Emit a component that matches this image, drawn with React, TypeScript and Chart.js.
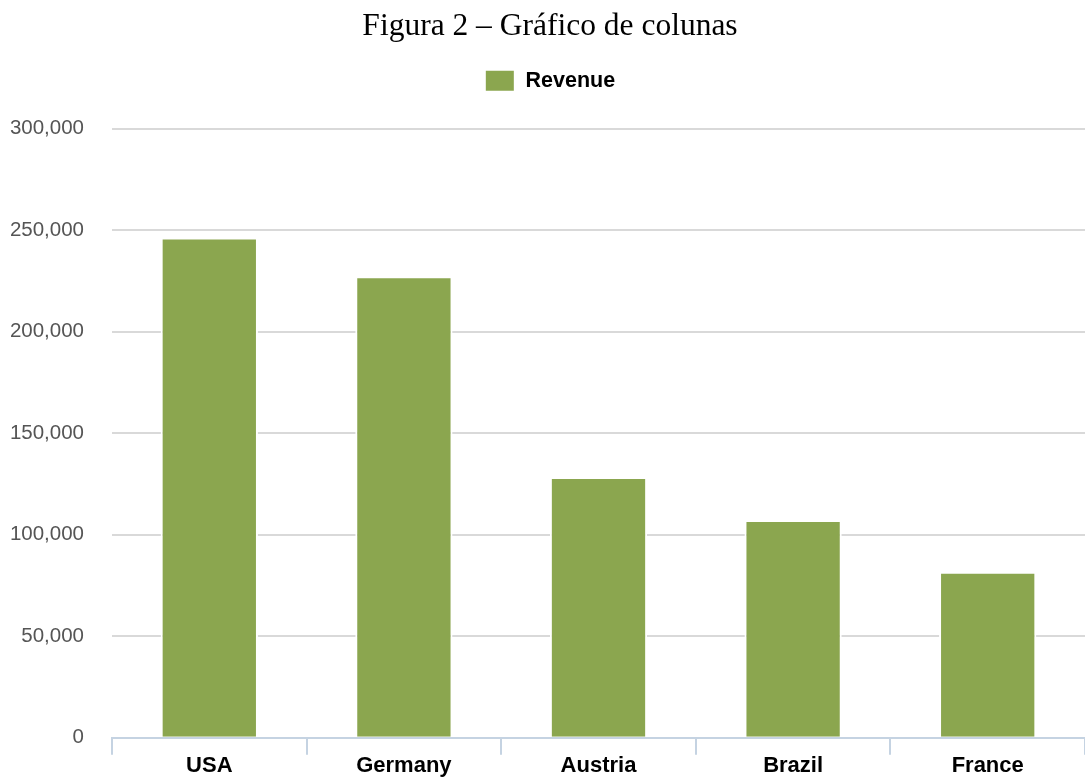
import React, { useEffect, useRef } from "react";
import { Chart, registerables } from "chart.js";

Chart.register(...registerables);

const categories = ["USA", "Germany", "Austria", "Brazil", "France"];
const revenue = [246500, 227300, 128400, 107300, 81800];
const seriesLabel = "Revenue";
const titleText = "Figura 2 – Gráfico de colunas";
const yMin = 0;
const yMax = 300000;
const yStep = 50000;

const legendGap = {
  id: "legendGap",
  beforeInit(chart: any) {
    const legend = chart.legend;
    if (!legend) return;
    const origFit = legend.fit;
    legend.fit = function () {
      origFit.call(this);
      this.height += 27;
    };
  },
};

const unclipYLabels = {
  id: "unclipYLabels",
  afterLayout(chart: any) {
    const y = chart.scales && chart.scales.y;
    if (y) y.left = 0;
  },
};

export default function App() {
  const ref = useRef<HTMLCanvasElement | null>(null);

  useEffect(() => {
    document.body.style.margin = "0";
    const canvas = ref.current;
    if (!canvas) return;
    const chart = new Chart(canvas, {
      type: "bar",
      data: {
        labels: categories,
        datasets: [
          {
            label: seriesLabel,
            data: revenue,
            backgroundColor: "#8ba64f",
            borderColor: "#ffffff",
            borderWidth: 2,
            barPercentage: 0.5,
            categoryPercentage: 1,
          },
        ],
      },
      plugins: [legendGap, unclipYLabels],
      options: {
        responsive: false,
        animation: false,
        maintainAspectRatio: false,
        layout: { padding: { left: 15, right: 0, top: 0, bottom: -8 } },
        plugins: {
          title: {
            display: true,
            text: titleText,
            color: "#000000",
            font: { family: "'Liberation Serif', 'Times New Roman', serif", size: 31.5, weight: "normal" },
            padding: { top: 8, bottom: 14 },
          },
          legend: {
            display: true,
            labels: {
              color: "#000000",
              boxWidth: 30,
              boxHeight: 22,
              padding: 10,
              font: { family: "'Liberation Sans', Arial, sans-serif", size: 21.5, weight: "bold" },
            },
          },
          tooltip: { enabled: false },
        },
        scales: {
          x: {
            grid: {
              drawOnChartArea: false,
              drawTicks: true,
              tickLength: 17,
              color: "#c5d3e2",
              lineWidth: 2,
            },
            border: { display: true, color: "#c5d3e2", width: 2 },
            ticks: {
              color: "#000000",
              padding: -2,
              font: { family: "'Liberation Sans', Arial, sans-serif", size: 22, weight: "bold" },
            },
          },
          y: {
            min: yMin,
            max: yMax,
            afterFit(scale: any) {
              scale.width = 97;
            },
            grid: { color: "#d9d9d9", lineWidth: 2, drawTicks: false },
            border: { display: false },
            ticks: {
              stepSize: yStep,
              color: "#555555",
              padding: 28,
              font: { family: "'Liberation Sans', Arial, sans-serif", size: 20.5 },
            },
          },
        },
      },
    });
    return () => chart.destroy();
  }, []);

  return <canvas ref={ref} width={1085} height={778} style={{ display: "block" }} />;
}
